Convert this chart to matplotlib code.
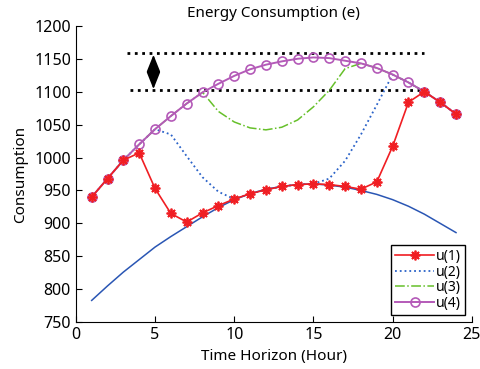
import numpy as np
import matplotlib.pyplot as plt

hours = list(range(1, 25))
baseline = [783, 805, 826, 845, 864, 880, 895, 910, 924, 936, 945, 952,
            956, 959, 960, 958, 955, 950, 944, 936, 926, 914, 900, 886]
u1 = [940, 968, 996, 1007, 953, 915, 902, 916, 927, 937, 945, 951,
      956, 959, 960, 959, 956, 952, 963, 1017, 1084, 1100, 1084, 1066]
u2 = [940, 968, 996, 1020, 1043, 1035, 1002, 970, 948, 937, 945, 951,
      956, 959, 960, 968, 995, 1035, 1080, 1126, 1114, 1100, 1084, 1066]
u3 = [940, 968, 996, 1020, 1043, 1063, 1082, 1099, 1070, 1054, 1045, 1042,
      1046, 1057, 1077, 1102, 1135, 1143, 1136, 1126, 1114, 1100, 1084, 1066]
u4 = [940, 968, 996, 1020, 1043, 1063, 1082, 1099, 1112, 1124, 1134, 1141,
      1146, 1150, 1152, 1151, 1147, 1143, 1136, 1126, 1114, 1100, 1084, 1066]

# band limits (dotted guides)
upper_lim = 1158
lower_lim = 1103

plt.rcParams['font.family'] = ['Noto Sans', 'DejaVu Sans']

fig = plt.figure(figsize=(4.8, 3.69), dpi=100)
ax = fig.add_axes([0.158, 0.127, 0.825, 0.803])

ax.plot(hours, baseline, color='#2a56b4', lw=1.1, zorder=2)
ax.plot(hours, u2, ':', color='#2a62c8', lw=1.3, label='u(2)', zorder=3)
ax.plot(hours, u3, '-.', color='#66c02a', lw=1.1, label='u(3)', zorder=3)
ax.plot(hours, u4, '-', color='#b45ab8', lw=1.4, marker='o', ms=6.5,
        mfc='none', mew=1.2, label='u(4)', zorder=4)
# matlab-style asterisk marker
ax.plot(hours, u1, '-', color='#f01e23', lw=1.2, marker=(8, 2, 0), ms=7,
        mew=1.3, label='u(1)', zorder=5)

ax.plot([3.2, 22.0], [upper_lim, upper_lim], ':', color='black', lw=2)
ax.plot([3.4, 22.0], [lower_lim, lower_lim], ':', color='black', lw=2)
ax.annotate('', xy=(4.9, upper_lim - 2), xytext=(4.9, lower_lim + 1),
            arrowprops=dict(arrowstyle='<|-|>,head_width=0.3,head_length=0.75',
                            color='black', lw=1.2, mutation_scale=14,
                            shrinkA=0, shrinkB=0))

handles, labels = ax.get_legend_handles_labels()
order = [labels.index(l) for l in ['u(1)', 'u(2)', 'u(3)', 'u(4)']]
leg = ax.legend([handles[i] for i in order], [labels[i] for i in order],
                loc='lower right', fontsize=10, fancybox=False,
                edgecolor='black', framealpha=1, borderpad=0.3,
                labelspacing=0.05, handlelength=2.8, handletextpad=0.1,
                borderaxespad=0.5)
leg.get_frame().set_linewidth(1.0)

ax.set_xlim(0, 25)
ax.set_ylim(750, 1200)
ax.set_xticks(range(0, 26, 5))
ax.set_yticks(range(750, 1201, 50))
ax.tick_params(direction='in', labelsize=11.5, length=4)
for s in ['top', 'right']:
    ax.spines[s].set_visible(False)
ax.set_xlabel('Time Horizon (Hour)', fontsize=11)
ax.set_ylabel('Consumption', fontsize=11)
ax.set_title('Energy Consumption (e)', fontsize=11)

fig.savefig('out.png', dpi=100)
